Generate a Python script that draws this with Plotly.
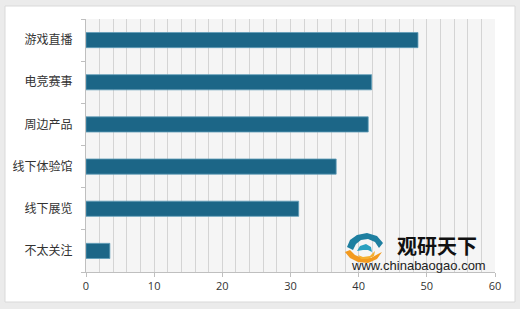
import plotly.graph_objects as go

categories = ["游戏直播", "电竞赛事", "周边产品", "线下体验馆", "线下展览", "不太关注"]
values = [48.7, 41.9, 41.4, 36.7, 31.2, 3.5]
x_ticks = [0, 10, 20, 30, 40, 50, 60]

W, H = 520, 309
L, R, T, B = 86, 25, 19, 37
pw, ph = W - L - R, H - T - B

def px2x(px):
    return (px - L) / pw

def px2y(py):
    return (H - B - py) / ph

def path(points):
    s = ""
    for i, (a, b) in enumerate(points):
        s += ("M" if i == 0 else "L") + f"{px2x(a):.5f},{px2y(b):.5f} "
    return s + "Z"

fig = go.Figure()
fig.add_trace(go.Bar(
    y=categories, x=values, orientation="h",
    marker=dict(color="#1c6687", line=dict(color="#5f9db8", width=0.8)),
    width=0.36,
))

# white panel and plot background
fig.add_shape(type="rect", xref="paper", yref="paper", layer="below",
              x0=px2x(5), x1=px2x(515), y0=px2y(302), y1=px2y(6),
              fillcolor="white", line=dict(color="#d9d9d9", width=1))
fig.add_shape(type="rect", xref="paper", yref="paper", layer="below",
              x0=0, x1=1, y0=0, y1=1,
              fillcolor="#f5f5f5", line=dict(width=0))

# logo approximation
teal = [(347, 247), (350, 240), (357, 235), (367, 233), (377, 236), (383, 243),
        (379, 248), (375, 242), (368, 239), (361, 240), (356, 244), (353, 250)]
teal_in = [(357, 251), (360, 246), (366, 244), (371, 247), (372, 252), (368, 250), (363, 250)]
orange = [(345, 252), (350, 258), (358, 262), (368, 263), (377, 259), (382, 252),
          (378, 254), (371, 258), (362, 258), (355, 255), (350, 250)]
orange_in = [(358, 255), (363, 257), (370, 256), (375, 251), (374, 256), (368, 259), (361, 259)]
for pts, col in [(teal, "#1e7fa0"), (teal_in, "#2aa0c0"), (orange, "#f39a1e"), (orange_in, "#f5b030")]:
    fig.add_shape(type="path", xref="paper", yref="paper", path=path(pts),
                  fillcolor=col, line=dict(width=0))

fig.add_annotation(xref="paper", yref="paper", x=px2x(437), y=px2y(245),
                   text="<b>观研天下</b>", showarrow=False, xanchor="center", yanchor="middle",
                   font=dict(family="Noto Sans CJK SC", size=20, color="#111"))
fig.add_annotation(xref="paper", yref="paper", x=px2x(418), y=px2y(265),
                   text="www.chinabaogao.com", showarrow=False, xanchor="center", yanchor="middle",
                   font=dict(family="Liberation Sans", size=13, color="#222"))

fig.update_layout(
    width=W, height=H,
    margin=dict(l=L, r=R, t=T, b=B, pad=0),
    paper_bgcolor="#ebebeb",
    plot_bgcolor="#f5f5f5",
    showlegend=False,
    bargap=0.64,
    font=dict(family="Noto Sans CJK SC", size=12, color="#333"),
    xaxis=dict(
        range=[0, 60], tickvals=x_ticks, ticktext=[str(v) for v in x_ticks],
        showgrid=False, zeroline=False,
        showline=True, linecolor="#bfbfbf", linewidth=1,
        ticks="outside", ticklen=4, tickcolor="#bfbfbf",
        tickfont=dict(family="Open Sans", size=11, color="#333"),
        minor=dict(dtick=2, showgrid=True, gridcolor="#d4d4d4", gridwidth=1, tick0=0),
        fixedrange=True,
    ),
    yaxis=dict(
        categoryorder="array", categoryarray=categories[::-1],
        showgrid=False, zeroline=False,
        showline=True, linecolor="#bfbfbf", linewidth=1,
        ticks="outside", ticklen=4, tickcolor="#bfbfbf", tickson="boundaries",
        ticklabelstandoff=10,
        tickfont=dict(family="Noto Sans CJK SC", size=12, color="#333"),
        fixedrange=True,
    ),
)

fig.write_html("out.html")
